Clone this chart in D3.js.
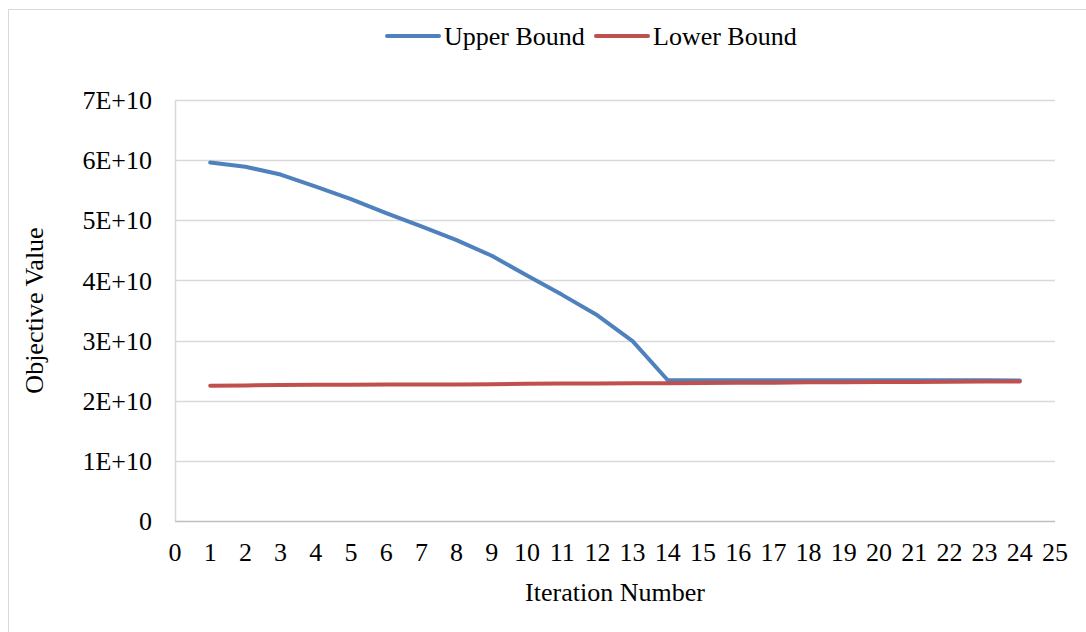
<!DOCTYPE html>
<html>
<head>
<meta charset="utf-8">
<script src="https://cdn.jsdelivr.net/npm/d3@7"></script>
<style>
  body { margin: 0; background: #fff; }
  text { font-family: "Liberation Serif", "Times New Roman", serif; fill: #000; }
</style>
</head>
<body>
<svg id="chart" width="1086" height="632"></svg>
<script>
// data, values in units of 1E+10
var iterations = [1,2,3,4,5,6,7,8,9,10,11,12,13,14,15,16,17,18,19,20,21,22,23,24];
var upperBound = [5.96,5.89,5.76,5.56,5.35,5.12,4.90,4.67,4.41,4.08,3.76,3.42,2.99,2.34,
                  2.34,2.34,2.34,2.34,2.34,2.34,2.34,2.34,2.34,2.335];
var lowerBound = [2.25,2.255,2.26,2.265,2.265,2.27,2.27,2.27,2.275,2.28,2.285,2.285,2.29,2.29,
                  2.295,2.30,2.30,2.305,2.305,2.31,2.31,2.315,2.32,2.32];
var xTicks = d3.range(0, 26);
var yTicks = [0,1,2,3,4,5,6,7];
var yTickLabels = ["0","1E+10","2E+10","3E+10","4E+10","5E+10","6E+10","7E+10"];
var seriesNames = ["Upper Bound", "Lower Bound"];
var seriesColors = ["#4f81bd", "#c0504d"];

var svg = d3.select("#chart");
var plot = {left: 175, right: 1055, top: 100, bottom: 521};

var x = d3.scaleLinear().domain([0, 25]).range([plot.left, plot.right]);
var y = d3.scaleLinear().domain([0, 7]).range([plot.bottom, plot.top]);

// outer chart border
svg.append("rect")
   .attr("x", 8.5).attr("y", 9.5)
   .attr("width", 1100).attr("height", 700)
   .attr("fill", "none").attr("stroke", "#d9d9d9");

// gridlines
svg.append("g").selectAll("line")
   .data(yTicks.slice(1))
   .enter().append("line")
   .attr("x1", plot.left).attr("x2", plot.right)
   .attr("y1", function(d) { return Math.round(y(d)) + 0.5; })
   .attr("y2", function(d) { return Math.round(y(d)) + 0.5; })
   .attr("stroke", "#d9d9d9").attr("stroke-width", 1.5);

// axis lines
svg.append("line")
   .attr("x1", plot.left + 0.5).attr("x2", plot.left + 0.5)
   .attr("y1", plot.top).attr("y2", plot.bottom)
   .attr("stroke", "#d9d9d9").attr("stroke-width", 1.5);
svg.append("line")
   .attr("x1", plot.left).attr("x2", plot.right)
   .attr("y1", plot.bottom + 0.5).attr("y2", plot.bottom + 0.5)
   .attr("stroke", "#bfbfbf").attr("stroke-width", 1.5);

// y tick labels
svg.append("g").selectAll("text")
   .data(yTicks)
   .enter().append("text")
   .attr("x", 152)
   .attr("y", function(d) { return y(d); })
   .attr("dy", "0.35em")
   .attr("text-anchor", "end")
   .style("font-size", "26px")
   .text(function(d, i) { return yTickLabels[i]; });

// x tick labels
svg.append("g").selectAll("text")
   .data(xTicks)
   .enter().append("text")
   .attr("x", function(d) { return x(d); })
   .attr("y", 561)
   .attr("text-anchor", "middle")
   .style("font-size", "26px")
   .text(function(d) { return d; });

// axis titles
svg.append("text")
   .attr("x", x(12.5)).attr("y", 601)
   .attr("text-anchor", "middle")
   .style("font-size", "26px")
   .text("Iteration Number");

svg.append("text")
   .attr("transform", "translate(43," + y(3.5) + ") rotate(-90)")
   .attr("text-anchor", "middle")
   .style("font-size", "26px")
   .text("Objective Value");

// series lines
var line = d3.line()
   .x(function(d) { return x(d[0]); })
   .y(function(d) { return y(d[1]); });

[upperBound, lowerBound].forEach(function(vals, i) {
  svg.append("path")
     .datum(d3.zip(iterations, vals))
     .attr("d", line)
     .attr("fill", "none")
     .attr("stroke", seriesColors[i])
     .attr("stroke-width", 4)
     .attr("stroke-linejoin", "round")
     .attr("stroke-linecap", "round");
});

// legend
var legendX = [387, 596];
seriesNames.forEach(function(name, i) {
  var g = svg.append("g").attr("transform", "translate(" + legendX[i] + ",36)");
  g.append("line")
   .attr("x1", 0).attr("x2", 52).attr("y1", 0).attr("y2", 0)
   .attr("stroke", seriesColors[i]).attr("stroke-width", 4)
   .attr("stroke-linecap", "round");
  g.append("text")
   .attr("x", 57).attr("y", 0).attr("dy", "0.33em")
   .style("font-size", "26px")
   .text(name);
});
</script>
</body>
</html>
